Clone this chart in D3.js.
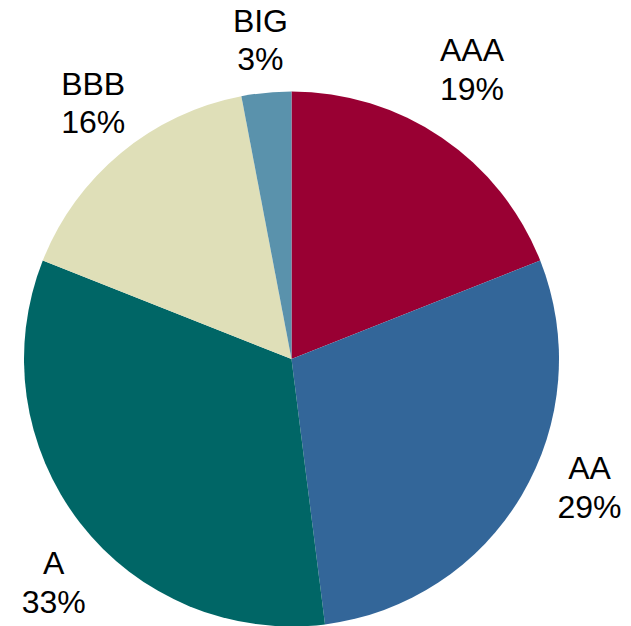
<!DOCTYPE html>
<html>
<head>
<meta charset="utf-8">
<script src="https://cdn.jsdelivr.net/npm/d3@7"></script>
<style>
  html, body { margin: 0; padding: 0; background: #ffffff; }
  svg { display: block; }
  text { font-family: "Liberation Sans", Arial, sans-serif; fill: #000000; }
</style>
</head>
<body>
<svg id="chart" width="631" height="626"></svg>
<script>
// Portfolio split by credit rating (percent of total)
const categories = ["AAA", "AA", "A", "BBB", "BIG"];
const shares = [19, 29, 33, 16, 3];
const colors = ["#990033", "#336699", "#006666", "#DFDFB8", "#5A92AC"];

// Layout
const width = 631, height = 626;
const cx = 291.5, cy = 359, radius = 267.5;
const labelRadius = 330;
const fontSize = 32, lineGap = 38.5;
// small shifts keeping the outside labels clear of each other
const labelNudge = {
  AAA: [-5, -17],
  AA: [14, -40],
  A: [23, 21],
  BBB: [12, -2],
  BIG: [0, 9]
};

const svg = d3.select("#chart");
const g = svg.append("g").attr("transform", `translate(${cx},${cy})`);

const data = categories.map((c, i) => ({ category: c, value: shares[i], color: colors[i] }));

const pie = d3.pie().sort(null).value(d => d.value).startAngle(0).endAngle(2 * Math.PI);
const arcs = pie(data);

const arc = d3.arc().innerRadius(0).outerRadius(radius);
const labelArc = d3.arc().innerRadius(labelRadius).outerRadius(labelRadius);

g.selectAll("path.slice")
  .data(arcs)
  .join("path")
  .attr("class", "slice")
  .attr("d", arc)
  .attr("fill", d => d.data.color);

const labels = g.selectAll("g.label")
  .data(arcs)
  .join("g")
  .attr("class", "label")
  .attr("transform", d => {
    const [x, y] = labelArc.centroid(d);
    const [nx, ny] = labelNudge[d.data.category];
    return `translate(${x + nx},${y + ny})`;
  });

labels.append("text")
  .attr("text-anchor", "middle")
  .attr("font-size", fontSize)
  .attr("y", -lineGap / 2 + fontSize * 0.358)
  .text(d => d.data.category);

labels.append("text")
  .attr("text-anchor", "middle")
  .attr("font-size", fontSize)
  .attr("y", lineGap / 2 + fontSize * 0.358)
  .text(d => `${d.data.value}%`);
</script>
</body>
</html>
